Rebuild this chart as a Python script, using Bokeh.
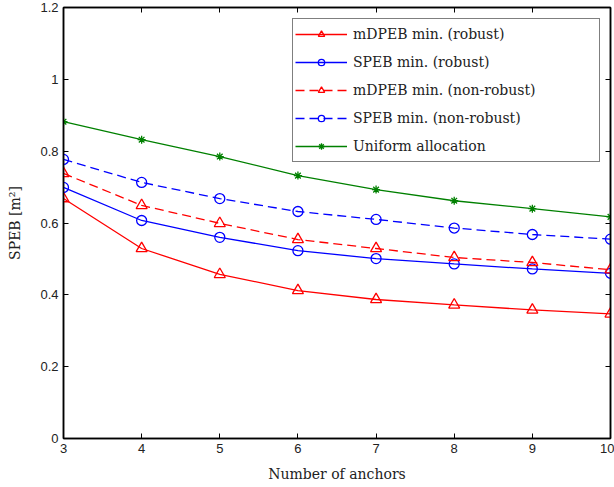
from bokeh.plotting import figure
from bokeh.models import (ColumnDataSource, FixedTicker, LinearAxis, Legend, LegendItem, Range1d)
from bokeh.embed import file_html
from bokeh.resources import INLINE

# ---- data ----
anchors = [3, 4, 5, 6, 7, 8, 9, 10]
mdpeb_robust = [0.668, 0.529, 0.457, 0.412, 0.387, 0.372, 0.358, 0.347]
speb_robust = [0.699, 0.607, 0.560, 0.523, 0.501, 0.486, 0.472, 0.460]
mdpeb_nonrobust = [0.738, 0.649, 0.599, 0.554, 0.529, 0.504, 0.490, 0.470]
speb_nonrobust = [0.777, 0.713, 0.668, 0.632, 0.610, 0.586, 0.568, 0.555]
uniform = [0.882, 0.832, 0.785, 0.732, 0.693, 0.662, 0.640, 0.617]

x_ticks = [3, 4, 5, 6, 7, 8, 9, 10]
y_ticks = [0, 0.2, 0.4, 0.6, 0.8, 1.0, 1.2]
y_tick_labels = ["0", "0.2", "0.4", "0.6", "0.8", "1", "1.2"]

series_labels = ["mDPEB min. (robust)", "SPEB min. (robust)",
                 "mDPEB min. (non-robust)", "SPEB min. (non-robust)",
                 "Uniform allocation"]

SERIF = "DejaVu Serif"
SANS = "Liberation Sans"

p = figure(width=614, height=487, output_backend="svg", toolbar_location=None,
           x_range=Range1d(3, 10), y_range=Range1d(0, 1.2),
           min_border_left=63, min_border_right=4, min_border_top=7, min_border_bottom=49)
p.background_fill_color = "white"
p.border_fill_color = "white"
p.grid.visible = False
p.outline_line_color = "black"
p.outline_line_width = 1.5

for ax in [p.xaxis[0], p.yaxis[0]]:
    ax.major_tick_in = 5
    ax.major_tick_out = 0
    ax.minor_tick_line_color = None
    ax.axis_line_width = 1.5
    ax.major_label_text_font = SANS
    ax.major_label_text_font_size = "13px"
    ax.major_label_text_color = "#222222"
    ax.axis_label_text_font = SERIF
    ax.axis_label_text_font_size = "14px"
    ax.axis_label_text_font_style = "normal"
    ax.axis_label_text_color = "#222222"
    ax.major_label_standoff = 5

p.xaxis.ticker = FixedTicker(ticks=x_ticks)
p.yaxis.ticker = FixedTicker(ticks=y_ticks)
p.yaxis.major_label_overrides = {t: s for t, s in zip(y_ticks, y_tick_labels)}
p.xaxis.axis_label = "Number of anchors"
p.yaxis.axis_label = "SPEB [m²]"
p.xaxis.axis_label_standoff = 10
p.yaxis.axis_label_standoff = 14

# top / right tick-only axes (labels not drawn)
top = LinearAxis(ticker=FixedTicker(ticks=x_ticks), major_label_text_color=None,
                 major_label_text_font_size="1px",
                 major_tick_in=5, major_tick_out=0, minor_tick_line_color=None,
                 major_label_standoff=0, axis_line_width=1.5)
right = LinearAxis(ticker=FixedTicker(ticks=y_ticks), major_label_text_color=None,
                   major_label_text_font_size="1px",
                   major_tick_in=5, major_tick_out=0, minor_tick_line_color=None,
                   major_label_standoff=0, axis_line_width=1.5)
p.add_layout(top, "above")
p.add_layout(right, "right")

RED, BLUE, GREEN = "#ff0000", "#0000ff", "#008000"
specs = [
    (mdpeb_robust, RED, "solid", "triangle", 11),
    (speb_robust, BLUE, "solid", "circle", 10),
    (mdpeb_nonrobust, RED, "9 5", "triangle", 11),
    (speb_nonrobust, BLUE, "9 5", "circle", 10),
    (uniform, GREEN, "solid", "asterisk", 8),
]

items = []
for (vals, col, dash, mk, sz), lab in zip(specs, series_labels):
    src = ColumnDataSource(dict(x=anchors, y=vals))
    lr = p.line("x", "y", source=src, line_color=col, line_width=1.3, line_dash=dash)
    sr = p.scatter("x", "y", source=src, marker=mk, size=sz, line_color=col,
                   fill_color=None if mk != "asterisk" else col, line_width=1.3)
    items.append(LegendItem(label=lab, renderers=[lr, sr]))

legend = Legend(items=items, location=(229, 276), margin=0, padding=2, spacing=2,
                glyph_width=52, glyph_height=16, label_height=26, label_width=244,
                label_standoff=6, label_text_font=SERIF, label_text_font_size="14px",
                label_text_color="#222222",
                border_line_color="black", border_line_width=1.2,
                background_fill_color="white", background_fill_alpha=1.0)
p.add_layout(legend, "center")

open("out.html", "w").write(file_html(p, INLINE))
